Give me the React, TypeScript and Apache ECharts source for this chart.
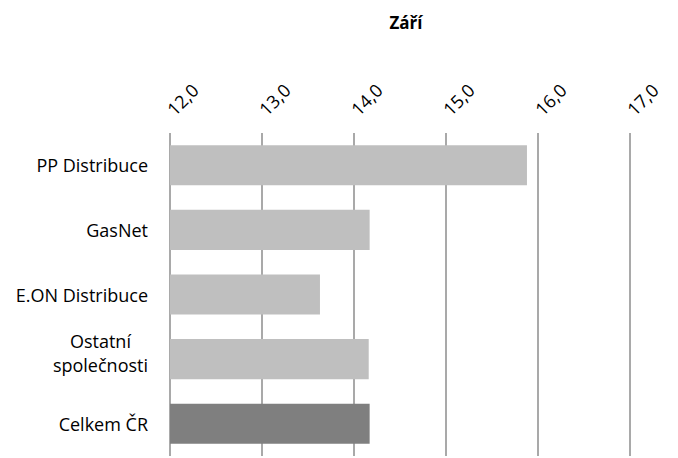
import React, { useEffect, useRef } from "react";
import * as echarts from "echarts";

const title = "Září";
const categories = ["PP Distribuce", "GasNet", "E.ON Distribuce", "Ostatní\nspolečnosti", "Celkem ČR"];
const values = [15.88, 14.17, 13.63, 14.16, 14.17];
const barColors = ["#bfbfbf", "#bfbfbf", "#bfbfbf", "#bfbfbf", "#7f7f7f"];
const axisMin = 12;
const axisMax = 17;
const axisStep = 1;

const FONT = "Open Sans";

export default function App() {
  const ref = useRef<HTMLDivElement>(null);
  useEffect(() => {
    if (!ref.current) return;
    const chart = echarts.init(ref.current, null, { renderer: "svg" });
    chart.setOption({
      animation: false,
      backgroundColor: "#ffffff",
      textStyle: { fontFamily: FONT },
      title: {
        text: title,
        left: 401,
        top: 9,
        textAlign: "center",
        textStyle: { fontFamily: FONT, fontSize: 17, fontWeight: "bold", color: "#000" },
      },
      grid: { left: 170, right: 48, top: 133, bottom: 2, containLabel: false },
      xAxis: {
        type: "value",
        position: "top",
        min: axisMin,
        max: axisMax,
        interval: axisStep,
        axisLine: { show: false },
        axisTick: { show: false },
        axisLabel: {
          rotate: -45,
          margin: 21,
          fontSize: 18,
          fontFamily: FONT,
          color: "#000",
          formatter: (v: number) => v.toFixed(1).replace(".", ","),
        },
        splitLine: { show: true, lineStyle: { color: "#8c8c8c", width: 1.5 } },
      },
      yAxis: {
        type: "category",
        inverse: true,
        data: categories,
        axisLine: { show: false },
        axisTick: { show: false },
        axisLabel: {
          margin: 22,
          fontSize: 18,
          fontFamily: FONT,
          color: "#000",
          formatter: (v: string) => {
            const lines = v.split("\n");
            if (lines.length === 1) return `{c|${v}}`;
            return lines.map((l) => `{c|${l}}`).join("\n") + "\n{e| }";
          },
          rich: {
            c: { align: "center", fontSize: 18, fontFamily: FONT, color: "#000", lineHeight: 24 },
            e: { fontSize: 1, lineHeight: 12 },
          },
        },
      },
      series: [
        {
          type: "bar",
          barCategoryGap: "38%",
          data: values.map((v, i) => ({ value: v, itemStyle: { color: barColors[i] } })),
        },
      ],
    });
    return () => chart.dispose();
  }, []);
  return (
    <div
      ref={ref}
      style={{ position: "fixed", left: 0, top: 0, width: 678, height: 458 }}
    />
  );
}
